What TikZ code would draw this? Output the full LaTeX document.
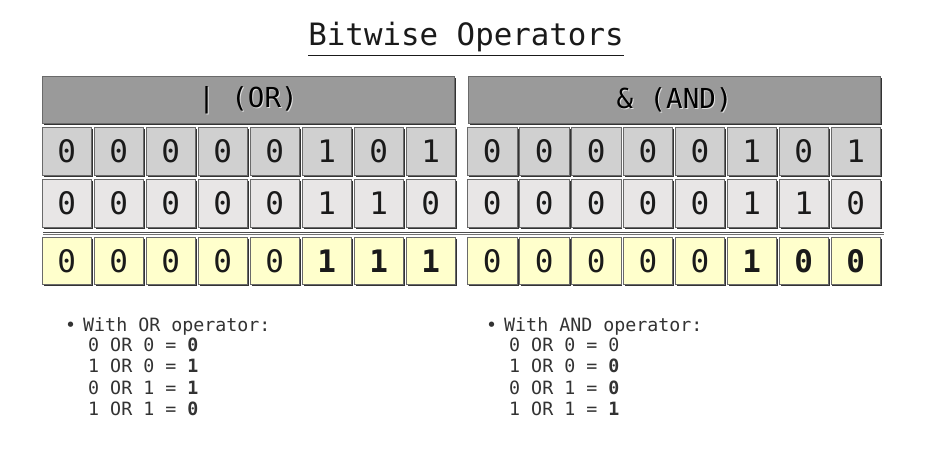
\documentclass[tikz,border=0pt]{standalone}
\usepackage{fontspec}
\setmonofont{DejaVu Sans Mono}
\usetikzlibrary{shadows}
\definecolor{hdrgray}{HTML}{9A9A9A}
\definecolor{rowa}{HTML}{D0D0D0}
\definecolor{rowb}{HTML}{E8E6E6}
\definecolor{rowc}{HTML}{FFFFCC}
\definecolor{edge}{HTML}{6A6A6A}
\definecolor{txt}{HTML}{1A1A1A}
\definecolor{note}{HTML}{333333}
\tikzset{
  boxshadow/.style={drop shadow={shadow xshift=1.6pt, shadow yshift=-1.6pt, fill=black!80, opacity=1}},
  cellbox/.style={draw=edge, line width=0.6pt, minimum width=49.5pt, minimum height=47.5pt,
    inner sep=0pt, font=\ttfamily\fontsize{31}{31}\selectfont, text=txt, boxshadow},
  hdrbox/.style={draw=edge, line width=0.6pt, fill=hdrgray, minimum width=412pt, minimum height=47.5pt,
    inner sep=0pt, boxshadow},
  hdrtext/.style={font=\ttfamily\fontsize{27.5}{27.5}\selectfont, text=black, inner sep=0pt},
  hdrglow/.style={font=\ttfamily\fontsize{27.5}{27.5}\selectfont, text=white, inner sep=0pt, opacity=0.7},
  notetext/.style={font=\ttfamily\fontsize{18.3}{18.3}\selectfont, text=note, inner sep=0pt, anchor=base west},
  sepline/.style={line width=0.8pt}
}
\begin{document}
\begin{tikzpicture}[x=1pt,y=-1pt]
\useasboundingbox[fill=white] (0,0) rectangle (930,457);
% title
\node[font=\ttfamily\fontsize{30.8}{30.8}\selectfont, text=txt, inner sep=0pt, anchor=base] (title) at (466,46) {Bitwise Operators};
\draw[line width=1pt, txt] ([yshift=-9.5pt]title.base west) -- ([yshift=-9.5pt]title.base east);
% headers
\node[hdrbox] (orhdr) at (248,99.8) {};
\node[hdrglow] (orhdrg) at ([xshift=1pt,yshift=-1pt]orhdr.center) {| (OR)};
\node[hdrtext] (orhdrt) at (orhdr.center) {| (OR)};
\node[hdrbox] (andhdr) at (674.5,99.8) {};
\node[hdrglow] (andhdrg) at ([xshift=1pt,yshift=-1pt]andhdr.center) {\& (AND)};
\node[hdrtext] (andhdrt) at (andhdr.center) {\& (AND)};
% OR cells
\foreach \v [count=\i] in {0,0,0,0,0,1,0,1}
  \node[cellbox, fill=rowa] (ora\i) at ({66.7+52*(\i-1)},151.4) {\v};
\foreach \v [count=\i] in {0,0,0,0,0,1,1,0}
  \node[cellbox, fill=rowb] (orb\i) at ({66.7+52*(\i-1)},203.2) {\v};
\foreach \v [count=\i] in {0,0,0,0,0,\textbf{1},\textbf{1},\textbf{1}}
  \node[cellbox, fill=rowc] (orc\i) at ({66.7+52*(\i-1)},261) {\v};
% AND cells
\foreach \v [count=\i] in {0,0,0,0,0,1,0,1}
  \node[cellbox, fill=rowa] (anda\i) at ({492.3+51.9*(\i-1)},151.4) {\v};
\foreach \v [count=\i] in {0,0,0,0,0,1,1,0}
  \node[cellbox, fill=rowb] (andb\i) at ({492.3+51.9*(\i-1)},203.2) {\v};
\foreach \v [count=\i] in {0,0,0,0,0,\textbf{1},\textbf{0},\textbf{0}}
  \node[cellbox, fill=rowc] (andc\i) at ({492.3+51.9*(\i-1)},261) {\v};
% separator double line
\coordinate (sepL) at (43,232.3);
\coordinate (sepR) at (884,232.3);
\draw[sepline, black!70] (sepL) -- (sepR);
\draw[sepline, black!55] ([yshift=-2.6pt]sepL) -- ([yshift=-2.6pt]sepR);
% notes OR
\node[notetext] (orbul) at (65,331) {•};
\node[notetext] (ornote) at (83,331) {With OR operator:};
\node[notetext] (orl1) at (88,352) {0 OR 0 = \textbf{0}};
\node[notetext] (orl2) at (88,373) {1 OR 0 = \textbf{1}};
\node[notetext] (orl3) at (88,394) {0 OR 1 = \textbf{1}};
\node[notetext] (orl4) at (88,415) {1 OR 1 = \textbf{0}};
% notes AND
\node[notetext] (andbul) at (486,331) {•};
\node[notetext] (andnote) at (504,331) {With AND operator:};
\node[notetext] (andl1) at (509,352) {0 OR 0 = 0};
\node[notetext] (andl2) at (509,373) {1 OR 0 = \textbf{0}};
\node[notetext] (andl3) at (509,394) {0 OR 1 = \textbf{0}};
\node[notetext] (andl4) at (509,415) {1 OR 1 = \textbf{1}};
\end{tikzpicture}
\end{document}
